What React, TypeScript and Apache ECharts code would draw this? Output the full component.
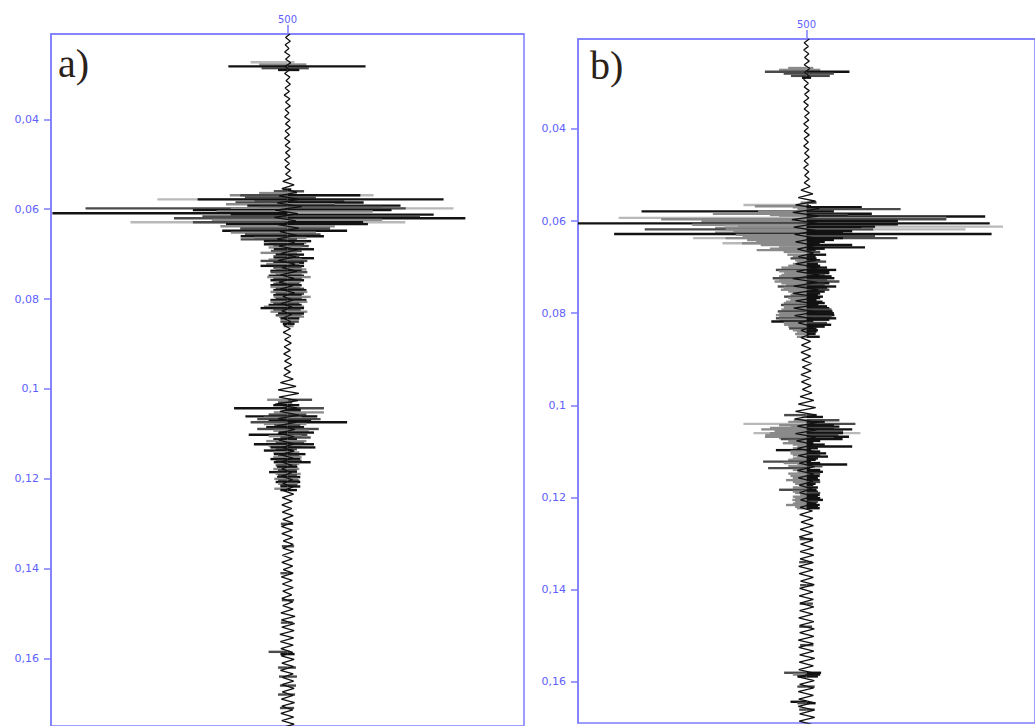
import React, { useEffect, useRef } from "react";
import * as echarts from "echarts";

// ---- axis / tick data ----
const TRACE_CENTER = 500;
const X_LABELS = [500];
const Y_TICKS = [0.04, 0.06, 0.08, 0.1, 0.12, 0.14, 0.16];
const PANEL_TITLES = ["a)", "b)"];

// time range of each panel (s)
const RANGE_A = [0.021, 0.175];
const RANGE_B = [0.0205, 0.1689];

// ---- thin wiggle trace (amplitude around 500), sampled every DT seconds ----
const DT = 0.0008;
const WIGGLE_A = [
  5, -4, 6, -5, 3, -6, 5, -4, 7, -5, 4, -6, 5, -3, 6, -5, 4, -7, 5, -4,
  6, -5, 3, -6, 5, -4, 6, -5, 4, -6, 5, -5, 6, -4, 5, -6, 4, -5, 6, -4,
  8, -10, 14, -12, 20, -18, 25, -22, 30, -26, 22, -28, 18, -20, 24, -16, 20, -22, 15, -18,
  22, -14, 18, -20, 16, -12, 20, -15, 14, -18, 12, -16, 15, -10, 12, -14, 10, -12, 9, -10,
  7, -8, 6, -9, 7, -6, 8, -7, 6, -8, 7, -6, 9, -7, 6, -8, 12, -15, 18, -20,
  24, -18, 22, -26, 20, -16, 24, -20, 18, -22, 16, -20, 14, -18, 15, -12, 14, -16, 12, -14,
  10, -12, 9, -13, 11, -10, 12, -9, 13, -11, 10, -12, 9, -11, 12, -10, 11, -13, 10, -12,
  11, -9, 12, -10, 13, -11, 10, -12, 11, -9, 12, -13, 10, -11, 12, -10, 9, -12, 11, -10,
  12, -14, 16, -13, 15, -12, 14, -16, 13, -15, 12, -14, 11, -13, 14, -12, 13, -15, 12, -11,
  13, -12, 14, -11, 12, -13, 15, -12, 11, -14, 13, -12, 14, -13, 12, -11, 13, -12, 14, -13,
];
const WIGGLE_B = [
  6, -5, 4, -6, 5, -4, 6, -5, 7, -4, 5, -6, 4, -5, 6, -4, 5, -6, 4, -5,
  6, -4, 5, -6, 4, -5, 6, -5, 4, -6, 5, -4, 6, -5, 4, -6, 5, -4, 6, -5,
  8, -12, 14, -18, 20, -24, 28, -30, 26, -32, 24, -28, 22, -26, 20, -24, 18, -20, 16, -18,
  20, -24, 26, -22, 28, -30, 24, -28, 26, -30, 28, -24, 26, -28, 22, -26, 20, -18, 15, -12,
  10, -12, 9, -11, 10, -12, 9, -10, 11, -9, 10, -12, 9, -11, 10, -9, 12, -14, 16, -18,
  20, -24, 22, -26, 24, -20, 22, -24, 20, -22, 18, -20, 22, -18, 20, -16, 18, -20, 16, -18,
  14, -16, 12, -15, 14, -13, 16, -14, 13, -15, 14, -12, 15, -14, 13, -16, 14, -13, 15, -14,
  16, -14, 15, -17, 14, -16, 15, -13, 17, -15, 14, -16, 15, -14, 16, -15, 14, -17, 16, -15,
  17, -15, 16, -18, 15, -17, 16, -15, 18, -16, 15, -17, 16, -18, 17, -15, 16, -18, 15, -17,
  16, -18, 17, -15, 18, -16, 15, -17, 16, -18, 17, -16, 18, -15, 16, -17, 15, -16, 17, -18,
];

// ---- wiggle excursions: [time, left amplitude, right amplitude, left shade, right shade] ----
const BARS_A = [
  [0.0273, -78, 15, 3, 3], [0.0278, -60, 40, 2, 2], [0.0282, -125, 165, 0, 0], [0.0286, -55, 45, 1, 1], [0.029, -20, 25, 0, 0],
  [0.0556, -10, 8, 0, 0], [0.056, -29, 35, 1, 1], [0.0564, -60, 20, 2, 2], [0.0569, -122, 182, 2, 3], [0.0569, -100, 154, 1, 0],
  [0.0574, -90, 60, 1, 1], [0.0578, -275, 330, 3, 0], [0.0578, -190, 0, 0, 0], [0.0582, -70, 120, 1, 1], [0.0585, -110, 161, 1, 0],
  [0.0589, -130, 100, 2, 2], [0.0592, -85, 239, 0, 0], [0.0595, -60, 200, 1, 1], [0.0598, -427, 351, 1, 3], [0.0598, -120, 250, 2, 1],
  [0.0602, -200, 220, 0, 0], [0.0605, -150, 180, 2, 2], [0.0609, -497, 0, 0, 0], [0.0612, -120, 309, 0, 0], [0.0616, -180, 280, 1, 1],
  [0.062, -240, 376, 1, 0], [0.0624, -160, 200, 2, 2], [0.0629, -332, 249, 3, 3], [0.0629, -200, 160, 1, 0], [0.0633, -130, 170, 0, 0],
  [0.0638, -142, 100, 2, 2], [0.0643, -100, 90, 1, 1], [0.0648, -138, 126, 0, 0], [0.0652, -120, 60, 2, 2], [0.0656, -90, 70, 1, 1],
  [0.066, -99, 77, 0, 0], [0.0664, -70, 40, 2, 2], [0.0667, -99, 20, 1, 1], [0.0671, -50, 50, 0, 0], [0.0675, -40, 40, 2, 2],
  [0.0678, -50, 35, 0, 0], [0.0682, -30, 45, 1, 1], [0.0685, -40, 30, 2, 2], [0.0689, -29, 56, 0, 0], [0.0693, -35, 30, 1, 1],
  [0.0697, -57, 20, 2, 2], [0.0701, -25, 35, 0, 0], [0.0705, -30, 25, 1, 1], [0.0709, -29, 56, 0, 0], [0.0712, -40, 30, 2, 2],
  [0.0715, -57, 42, 1, 1], [0.0719, -30, 35, 0, 0], [0.0722, -45, 25, 2, 2], [0.0726, -57, 35, 0, 0], [0.073, -30, 30, 1, 1],
  [0.0734, -25, 40, 2, 2], [0.0737, -36, 30, 0, 0], [0.074, -36, 42, 1, 1], [0.0744, -25, 30, 2, 2], [0.0748, -40, 35, 0, 0],
  [0.0751, -43, 49, 2, 2], [0.0755, -30, 30, 1, 1], [0.0758, -36, 35, 0, 0], [0.0762, -25, 28, 2, 2], [0.0766, -30, 25, 1, 1],
  [0.0769, -36, 30, 0, 0], [0.0773, -36, 27, 2, 2], [0.0777, -25, 35, 1, 1], [0.078, -30, 40, 0, 0], [0.0784, -36, 42, 2, 2],
  [0.0788, -25, 35, 1, 1], [0.0791, -30, 30, 0, 0], [0.0795, -29, 49, 2, 2], [0.0799, -25, 30, 1, 1], [0.0802, -36, 40, 0, 0],
  [0.0806, -36, 42, 2, 2], [0.081, -30, 25, 1, 1], [0.0813, -40, 30, 0, 0], [0.0817, -50, 35, 2, 2], [0.082, -57, 35, 0, 0],
  [0.0824, -30, 28, 1, 1], [0.0828, -36, 42, 2, 2], [0.0832, -20, 35, 0, 0], [0.0836, -25, 30, 1, 1], [0.0839, -18, 35, 2, 2],
  [0.0843, -15, 25, 0, 0], [0.085, -15, 24, 1, 1], [0.0855, -10, 15, 0, 0], [0.086, -8, 13, 2, 2],
  [0.1024, -43, 52, 2, 1], [0.103, -20, 10, 1, 1], [0.1036, -30, 25, 0, 0], [0.1043, -113, 77, 0, 1], [0.1046, -5, 28, 0, 0],
  [0.105, -5, 28, 0, 0], [0.1052, -29, 77, 2, 2], [0.1057, -40, 40, 1, 1], [0.1061, -89, 63, 0, 0], [0.1064, -50, 30, 2, 2],
  [0.1067, -64, 70, 1, 1], [0.1071, -40, 50, 0, 0], [0.1074, -78, 126, 1, 0], [0.1078, -50, 40, 2, 2], [0.1081, -28, 27, 1, 1],
  [0.1085, -45, 35, 0, 0], [0.1089, -64, 66, 1, 1], [0.1093, -30, 45, 2, 2], [0.1097, -18, 56, 0, 0], [0.1102, -82, 42, 0, 1],
  [0.1105, -40, 30, 2, 2], [0.1108, -15, 49, 1, 1], [0.1112, -30, 20, 0, 0], [0.1116, -45, 40, 2, 2], [0.112, -25, 35, 1, 1],
  [0.1123, -71, 56, 0, 0], [0.1127, -40, 30, 2, 2], [0.113, -36, 59, 0, 0], [0.1134, -25, 20, 1, 1], [0.1137, -50, 10, 0, 0],
  [0.1141, -30, 25, 2, 2], [0.1145, -29, 38, 0, 0], [0.1149, -20, 25, 1, 1], [0.1152, -30, 30, 2, 2], [0.1156, -36, 27, 0, 0],
  [0.116, -25, 30, 1, 1], [0.1163, -29, 49, 0, 0], [0.1167, -20, 25, 2, 2], [0.117, -25, 20, 1, 1], [0.1174, -22, 21, 0, 0],
  [0.1178, -30, 25, 2, 2], [0.1181, -20, 20, 1, 1], [0.1185, -39, 20, 0, 0], [0.1189, -25, 28, 2, 2], [0.1192, -20, 20, 1, 1],
  [0.1196, -22, 27, 0, 0], [0.12, -28, 22, 2, 2], [0.1204, -20, 25, 1, 1], [0.1207, -25, 27, 0, 0], [0.1211, -20, 22, 2, 2],
  [0.1214, -15, 20, 1, 1], [0.1217, -15, 27, 0, 0], [0.1222, -28, 7, 2, 2], [0.1225, -15, 20, 0, 0],
  [0.13, -14, 12, 1, 1], [0.135, -12, 14, 1, 1], [0.141, -15, 10, 1, 1], [0.147, -12, 14, 1, 1], [0.152, -14, 11, 1, 1],
  [0.1585, -40, 5, 1, 1], [0.159, -15, 15, 0, 0], [0.162, -20, 18, 1, 1], [0.164, -18, 20, 1, 1], [0.166, -16, 18, 1, 1],
  [0.168, -20, 16, 1, 1], [0.171, -16, 14, 1, 1],
];

const BARS_B = [
  [0.0268, -40, 15, 2, 2], [0.0272, -60, 30, 2, 2], [0.0276, -91, 94, 1, 0], [0.028, -50, 60, 1, 1], [0.0285, -34, 51, 1, 1], [0.0289, -10, 10, 0, 0],
  [0.056, -13, 22, 2, 1], [0.0565, -138, 5, 3, 1], [0.0568, -113, 10, 2, 0], [0.057, -30, 121, 2, 0], [0.0574, -20, 206, 2, 1],
  [0.0579, -361, 0, 0, 0], [0.0579, -106, 60, 2, 0], [0.0584, -205, 143, 2, 0], [0.0587, -80, 90, 2, 1], [0.059, -60, 391, 2, 0],
  [0.0593, -411, 306, 3, 2], [0.0596, -318, 306, 2, 1], [0.06, -230, 200, 2, 0], [0.0605, -500, 401, 0, 0], [0.0608, -250, 200, 2, 0],
  [0.0612, -180, 430, 3, 3], [0.0612, -150, 150, 2, 0], [0.0615, -200, 120, 2, 0], [0.0618, -354, 348, 1, 3], [0.0618, -177, 146, 2, 1],
  [0.0622, -160, 100, 2, 0], [0.0625, -200, 80, 2, 0], [0.0628, -421, 405, 0, 0], [0.063, -155, 60, 2, 0], [0.0633, -140, 150, 2, 1],
  [0.0637, -248, 199, 3, 1], [0.0637, -177, 80, 2, 0], [0.0641, -130, 60, 2, 0], [0.0645, -110, 40, 2, 0], [0.0648, -184, 29, 3, 0],
  [0.0648, -141, 0, 2, 2], [0.0652, -100, 100, 2, 0], [0.0657, -60, 128, 2, 0], [0.066, -80, 40, 2, 0], [0.0663, -109, 20, 2, 0],
  [0.0667, -50, 30, 2, 1], [0.0673, -42, 43, 2, 0], [0.0677, -30, 20, 2, 0], [0.0681, -35, 22, 1, 0], [0.0685, -25, 30, 2, 0],
  [0.0688, -21, 43, 2, 1], [0.0693, -30, 25, 2, 0], [0.0697, -40, 30, 2, 0], [0.0701, -55, 45, 2, 0], [0.0706, -67, 65, 1, 0],
  [0.0709, -60, 50, 2, 0], [0.0713, -49, 50, 2, 0], [0.0717, -55, 40, 2, 1], [0.072, -60, 55, 2, 0], [0.0724, -74, 61, 1, 0],
  [0.0728, -60, 45, 2, 1], [0.0731, -70, 72, 2, 1], [0.0735, -55, 50, 2, 0], [0.0738, -45, 40, 2, 1], [0.0742, -63, 65, 1, 0],
  [0.0745, -50, 45, 2, 0], [0.0749, -56, 50, 2, 1], [0.0753, -40, 40, 2, 0], [0.0757, -30, 30, 2, 0], [0.076, -35, 25, 2, 0],
  [0.0764, -49, 36, 1, 0], [0.0767, -40, 30, 2, 0], [0.0771, -35, 22, 2, 0], [0.0775, -45, 35, 2, 0], [0.0778, -50, 40, 2, 0],
  [0.0782, -56, 22, 1, 0], [0.0785, -50, 45, 2, 0], [0.0789, -49, 50, 2, 0], [0.0792, -55, 55, 2, 1], [0.0796, -63, 57, 1, 0],
  [0.08, -60, 60, 2, 0], [0.0804, -67, 61, 2, 0], [0.0807, -60, 55, 2, 1], [0.0811, -67, 65, 1, 0], [0.0814, -60, 50, 2, 0],
  [0.0818, -77, 15, 0, 0], [0.0821, -50, 45, 2, 1], [0.0825, -49, 54, 2, 0], [0.0829, -40, 40, 2, 0], [0.0833, -38, 22, 1, 0],
  [0.0837, -30, 25, 2, 0], [0.084, -21, 22, 2, 0], [0.0845, -25, 20, 2, 0], [0.0851, -21, 29, 2, 0],
  [0.1021, -49, 22, 1, 1], [0.1025, -10, 36, 2, 0], [0.1032, -28, 72, 2, 1], [0.1036, -40, 40, 2, 0], [0.104, -138, 107, 3, 1],
  [0.1043, -60, 60, 2, 0], [0.1046, -35, 72, 2, 0], [0.1049, -80, 60, 2, 1], [0.1052, -99, 100, 2, 0], [0.1056, -70, 80, 2, 1],
  [0.106, -116, 118, 3, 3], [0.106, -80, 80, 2, 0], [0.1064, -90, 70, 2, 1], [0.1068, -91, 93, 2, 0], [0.1071, -60, 60, 2, 1],
  [0.1073, -56, 79, 1, 0], [0.1077, -40, 30, 2, 0], [0.1082, -52, 15, 2, 0], [0.1085, -30, 40, 2, 0], [0.1089, -20, 100, 2, 0],
  [0.1093, -30, 25, 2, 0], [0.1097, -67, 10, 0, 0], [0.11, -35, 30, 2, 0], [0.1104, -35, 43, 2, 0], [0.1108, -30, 30, 2, 1],
  [0.1111, -21, 47, 2, 0], [0.1115, -30, 25, 2, 0], [0.1118, -40, 20, 2, 0], [0.1122, -95, 10, 1, 0], [0.1125, -50, 30, 2, 0],
  [0.1128, -20, 89, 2, 0], [0.1132, -40, 35, 2, 1], [0.1136, -84, 8, 1, 0], [0.114, -30, 30, 2, 0], [0.1144, -20, 36, 2, 0],
  [0.1148, -40, 30, 2, 1], [0.1153, -35, 29, 2, 0], [0.1157, -30, 25, 2, 0], [0.1162, -45, 29, 2, 0], [0.1166, -30, 30, 2, 1],
  [0.117, -25, 20, 2, 0], [0.1173, -14, 15, 2, 0], [0.1178, -30, 25, 2, 0], [0.1183, -60, 22, 1, 0], [0.1187, -30, 25, 2, 0],
  [0.119, -25, 30, 2, 1], [0.1194, -14, 29, 2, 0], [0.1198, -30, 25, 2, 0], [0.1201, -25, 30, 2, 0], [0.1205, -31, 36, 2, 0],
  [0.1209, -25, 25, 2, 1], [0.1213, -30, 22, 2, 0], [0.1216, -45, 29, 2, 0], [0.122, -25, 25, 2, 0], [0.1223, -21, 29, 2, 0],
  [0.129, -15, 14, 1, 1], [0.134, -16, 12, 1, 1], [0.139, -14, 15, 1, 1], [0.143, -15, 14, 1, 1], [0.148, -16, 12, 1, 1],
  [0.152, -14, 15, 1, 1], [0.158, -49, 32, 1, 0], [0.1584, -30, 30, 2, 0], [0.1588, -20, 25, 0, 0], [0.161, -20, 18, 1, 1],
  [0.1643, -35, 0, 0, 0], [0.1646, -20, 20, 1, 0], [0.166, -16, 18, 1, 1],
];

const SHADES = ["#121212", "#4a4a4a", "#8a8a8a", "#b9b9b9"];
const AXIS_BLUE = "#7d7dff";
const LABEL_BLUE = "#6060ff";

function barRenderer(params: any, api: any) {
  const t = api.value(0);
  const lo = api.value(1);
  const hi = api.value(2);
  const sl = api.value(3);
  const sr = api.value(4);
  const h = 2.4;
  const children: any[] = [];
  if (lo < 0) {
    const a = api.coord([TRACE_CENTER + lo, t]);
    const b = api.coord([TRACE_CENTER + Math.min(hi, 0), t]);
    children.push({
      type: "rect",
      shape: { x: a[0], y: a[1] - h / 2, width: Math.max(b[0] - a[0], 1), height: h },
      style: { fill: SHADES[sl] },
    });
  }
  if (hi > 0) {
    const a = api.coord([TRACE_CENTER + Math.max(lo, 0), t]);
    const b = api.coord([TRACE_CENTER + hi, t]);
    children.push({
      type: "rect",
      shape: { x: a[0], y: a[1] - h / 2, width: Math.max(b[0] - a[0], 1), height: h },
      style: { fill: SHADES[sr] },
    });
  }
  return { type: "group", children };
}

function wiggleData(values: number[], t0: number) {
  return values.map((v, i) => [TRACE_CENTER + v, t0 + i * DT]);
}

const fmt = (v: number) => String(+v.toFixed(2)).replace(".", ",");

function axesFor(gridIndex: number, range: number[]) {
  const x = {
    type: "value",
    gridIndex,
    position: "top",
    min: 0,
    max: 1000,
    axisLine: { show: true, lineStyle: { color: AXIS_BLUE, width: 1.5 } },
    axisTick: { show: true, customValues: X_LABELS, length: 9, lineStyle: { color: AXIS_BLUE, width: 1.5 } },
    axisLabel: { customValues: X_LABELS, color: LABEL_BLUE, fontSize: 10, fontFamily: "DejaVu Sans", margin: 10 },
    splitLine: { show: false },
  };
  const y = {
    type: "value",
    gridIndex,
    inverse: true,
    min: range[0],
    max: range[1],
    axisLine: { show: true, lineStyle: { color: AXIS_BLUE, width: 1.5 } },
    axisTick: { show: true, customValues: Y_TICKS, length: 7, lineStyle: { color: AXIS_BLUE, width: 1.5 } },
    axisLabel: {
      customValues: Y_TICKS,
      formatter: (v: number) => fmt(v),
      color: LABEL_BLUE,
      fontSize: 11,
      fontFamily: "DejaVu Sans",
      margin: 12,
    },
    splitLine: { show: false },
  };
  return { x, y };
}

export default function App() {
  const ref = useRef<HTMLDivElement>(null);
  useEffect(() => {
    if (!ref.current) return;
    const chart = echarts.init(ref.current, null, { renderer: "svg" });
    const ax0 = axesFor(0, RANGE_A);
    const ax1 = axesFor(1, RANGE_B);
    const gridStyle = { show: true, borderColor: AXIS_BLUE, borderWidth: 1.5, backgroundColor: "#ffffff" };
    chart.setOption({
      animation: false,
      backgroundColor: "#ffffff",
      grid: [
        { left: 51, top: 34, width: 473, height: 705, ...gridStyle },
        { left: 578, top: 39, width: 470, height: 684, ...gridStyle },
      ],
      xAxis: [ax0.x, ax1.x],
      yAxis: [ax0.y, ax1.y],
      graphic: [
        {
          type: "text",
          left: 58,
          top: 43,
          z: 100,
          style: { text: PANEL_TITLES[0], font: "40px 'Liberation Serif'", fill: "#2a2218" },
        },
        {
          type: "text",
          left: 590,
          top: 45,
          z: 100,
          style: { text: PANEL_TITLES[1], font: "40px 'Liberation Serif'", fill: "#2a2218" },
        },
      ],
      series: [
        {
          type: "custom",
          xAxisIndex: 0,
          yAxisIndex: 0,
          clip: true,
          renderItem: barRenderer,
          encode: { x: [1, 2], y: 0 },
          data: BARS_A,
        },
        {
          type: "line",
          xAxisIndex: 0,
          yAxisIndex: 0,
          showSymbol: false,
          clip: true,
          lineStyle: { color: "#111", width: 1.3 },
          data: wiggleData(WIGGLE_A, RANGE_A[0]),
          z: 3,
        },
        {
          type: "custom",
          xAxisIndex: 1,
          yAxisIndex: 1,
          clip: true,
          renderItem: barRenderer,
          encode: { x: [1, 2], y: 0 },
          data: BARS_B,
        },
        {
          type: "line",
          xAxisIndex: 1,
          yAxisIndex: 1,
          showSymbol: false,
          clip: true,
          lineStyle: { color: "#111", width: 1.3 },
          data: wiggleData(WIGGLE_B, RANGE_B[0]),
          z: 3,
        },
      ],
    });
    return () => chart.dispose();
  }, []);
  return (
    <div
      ref={ref}
      style={{ position: "fixed", left: 0, top: 0, width: 1035, height: 726, background: "#fff" }}
    />
  );
}
